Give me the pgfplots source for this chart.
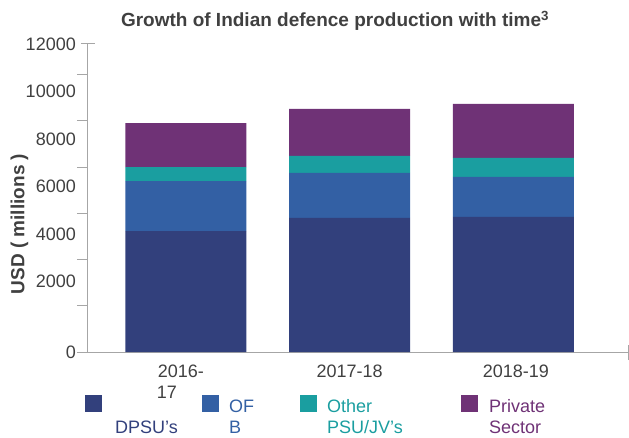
\documentclass[border=0pt]{standalone}
\usepackage{fontspec}
\setmainfont{Liberation Sans}
\usepackage{pgfplots}
\pgfplotsset{compat=1.18}
\definecolor{cNavy}{HTML}{32407C}
\definecolor{cBlue}{HTML}{3360A4}
\definecolor{cTeal}{HTML}{1A9EA0}
\definecolor{cPurple}{HTML}{6F3276}
\definecolor{axgray}{HTML}{A6A6A6}
\definecolor{txt}{HTML}{404040}
\newcommand{\ff}{\fontsize{18}{21}\selectfont}
\begin{document}
\begin{tikzpicture}[x=1pt,y=1pt]
\useasboundingbox (0,0) rectangle (629,437);
\begin{axis}[
  at={(87pt,85pt)}, anchor=south west,
  scale only axis, width=541pt, height=308pt,
  ybar stacked, bar width=121pt,
  xmin=-0.604, xmax=2.70, ymin=0, ymax=13319,
  axis x line*=bottom, axis y line*=left,
  axis line style={draw=axgray, line width=1pt, -},
  xtick={0,1,2},
  xticklabels={{\hspace*{-10pt}2016-\\\hspace*{-38pt}17},2017-18,\hspace*{5pt}2018-19},
  xticklabel style={align=center, text=txt, font=\ff, inner sep=0pt, yshift=-13pt},
  major tick length=0pt,
  ytick={0,3049,5103,7157,9211,11265,13319},
  yticklabels={0,2000,4000,6000,8000,10000,12000},
  yticklabel style={text=txt, font=\ff, inner sep=0pt, xshift=-11pt},
  extra y ticks={0,2000,4000,6000,8000,10000,12000},
  extra y tick labels={},
  extra y tick style={major tick length=10pt, tick align=outside, tick style={draw=axgray, line width=1pt}},
  scaled y ticks=false,
  /pgf/number format/assume math mode=true,
  clip=false,
  every axis plot/.append style={draw=none},
]
\addplot[fill=cNavy] coordinates {(0,5230) (1,5800) (2,5840)};
\addplot[fill=cBlue] coordinates {(0,2160) (1,1950) (2,1730)};
\addplot[fill=cTeal] coordinates {(0,610) (1,730) (2,820)};
\addplot[fill=cPurple] coordinates {(0,1900) (1,2030) (2,2340)};
\draw[axgray, line width=1pt] ([xshift=-6pt]rel axis cs:0,1) -- ([xshift=8pt]rel axis cs:0,1);
\draw[axgray, line width=1pt] ([yshift=-8pt]rel axis cs:1,0) -- ([yshift=7pt]rel axis cs:1,0);
\end{axis}
\node[text=txt, font=\fontsize{19}{22}\selectfont\bfseries] at (335,416) {Growth of Indian defence production with time\textsuperscript{3}};
\node[text=txt, font=\fontsize{19}{22}\selectfont\bfseries, rotate=90] at (19.5,213) {USD ( millions )};
% legend
\fill[cNavy] (85,25) rectangle (102,42);
\fill[cBlue] (202,25) rectangle (219,42);
\fill[cTeal] (300,25) rectangle (317,42);
\fill[cPurple] (461,25) rectangle (478,42);
\node[anchor=base west, inner sep=0pt, text=cNavy, font=\ff] at (115,3.6) {DPSU's};
\node[anchor=base west, inner sep=0pt, text=cBlue, font=\ff] at (229,24.6) {OF};
\node[anchor=base west, inner sep=0pt, text=cBlue, font=\ff] at (229,3.6) {B};
\node[anchor=base west, inner sep=0pt, text=cTeal, font=\ff] at (327,24.6) {Other};
\node[anchor=base west, inner sep=0pt, text=cTeal, font=\ff] at (327,3.6) {PSU/JV's};
\node[anchor=base west, inner sep=0pt, text=cPurple, font=\ff] at (489,24.6) {Private};
\node[anchor=base west, inner sep=0pt, text=cPurple, font=\ff] at (489,3.6) {Sector};
\end{tikzpicture}
\end{document}
